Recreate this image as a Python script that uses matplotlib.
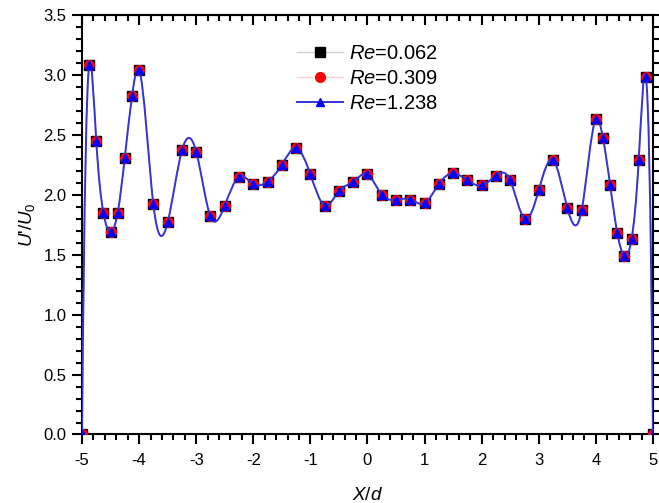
import numpy as np
import matplotlib
matplotlib.use("Agg")
import matplotlib.pyplot as plt
from matplotlib.path import Path
from matplotlib.patches import PathPatch
from matplotlib.lines import Line2D
from matplotlib.ticker import MultipleLocator, FormatStrFormatter

plt.rcParams['font.family'] = ['Liberation Sans', 'DejaVu Sans']
plt.rcParams['mathtext.fontset'] = 'custom'
plt.rcParams['mathtext.it'] = 'Liberation Sans:italic'
plt.rcParams['mathtext.rm'] = 'Liberation Sans'
plt.rcParams['axes.unicode_minus'] = False

# ---- data ----
x_d = [-5.0, -4.875, -4.75, -4.625, -4.5, -4.375, -4.25, -4.125, -4.0,
       -3.75, -3.5, -3.25, -3.0, -2.75, -2.5, -2.25, -2.0, -1.75, -1.5,
       -1.25, -1.0, -0.75, -0.5, -0.25, 0.0, 0.25, 0.5, 0.75, 1.0, 1.25,
       1.5, 1.75, 2.0, 2.25, 2.5, 2.75, 3.0, 3.25, 3.5, 3.75,
       4.0, 4.125, 4.25, 4.375, 4.5, 4.625, 4.75, 4.875, 5.0]
re_0062 = [0.0, 3.08, 2.45, 1.85, 1.69, 1.85, 2.31, 2.82, 3.04,
           1.92, 1.77, 2.37, 2.36, 1.82, 1.91, 2.15, 2.09, 2.11, 2.25,
           2.39, 2.17, 1.91, 2.03, 2.11, 2.17, 2.00, 1.96, 1.96, 1.93, 2.09,
           2.18, 2.12, 2.08, 2.16, 2.12, 1.80, 2.04, 2.29, 1.89, 1.87,
           2.63, 2.47, 2.08, 1.68, 1.49, 1.63, 2.29, 2.985, 0.0]
re_0309 = [0.0, 3.08, 2.45, 1.85, 1.69, 1.85, 2.31, 2.82, 3.04,
           1.92, 1.77, 2.37, 2.36, 1.82, 1.91, 2.15, 2.09, 2.11, 2.25,
           2.39, 2.17, 1.91, 2.03, 2.11, 2.17, 2.00, 1.96, 1.96, 1.93, 2.09,
           2.18, 2.12, 2.08, 2.16, 2.12, 1.80, 2.04, 2.29, 1.89, 1.87,
           2.63, 2.47, 2.08, 1.68, 1.49, 1.63, 2.29, 2.985, 0.0]
re_1238 = [0.0, 3.08, 2.45, 1.85, 1.69, 1.85, 2.31, 2.82, 3.04,
           1.92, 1.77, 2.37, 2.36, 1.82, 1.91, 2.15, 2.09, 2.11, 2.25,
           2.39, 2.17, 1.91, 2.03, 2.11, 2.17, 2.00, 1.96, 1.96, 1.93, 2.09,
           2.18, 2.12, 2.08, 2.16, 2.12, 1.80, 2.04, 2.29, 1.89, 1.87,
           2.63, 2.47, 2.08, 1.68, 1.49, 1.63, 2.29, 2.985, 0.0]
labels = [r"$Re$=0.062", r"$Re$=0.309", r"$Re$=1.238"]


def spline_path(xs, ys):
    """Not-a-knot cubic spline connection drawn as Bezier curves."""
    xs = np.asarray(xs, float)
    ys = np.asarray(ys, float)
    n = len(xs)
    h = np.diff(xs)
    A = np.zeros((n, n))
    b = np.zeros(n)
    A[0, 0], A[0, 1], A[0, 2] = h[1], -(h[0] + h[1]), h[0]
    A[-1, -3], A[-1, -2], A[-1, -1] = h[-1], -(h[-2] + h[-1]), h[-2]
    for i in range(1, n - 1):
        A[i, i - 1] = h[i - 1]
        A[i, i] = 2 * (h[i - 1] + h[i])
        A[i, i + 1] = h[i]
        b[i] = 6 * ((ys[i + 1] - ys[i]) / h[i] - (ys[i] - ys[i - 1]) / h[i - 1])
    M = np.linalg.solve(A, b)
    verts = [(xs[0], ys[0])]
    codes = [Path.MOVETO]
    for i in range(n - 1):
        s = (ys[i + 1] - ys[i]) / h[i]
        m0 = s - h[i] * (2 * M[i] + M[i + 1]) / 6
        m1 = s + h[i] * (M[i] + 2 * M[i + 1]) / 6
        verts += [(xs[i] + h[i] / 3, ys[i] + m0 * h[i] / 3),
                  (xs[i + 1] - h[i] / 3, ys[i + 1] - m1 * h[i] / 3),
                  (xs[i + 1], ys[i + 1])]
        codes += [Path.CURVE4] * 3
    return Path(verts, codes)


fig = plt.figure(figsize=(6.59, 5.03), dpi=100)
ax = fig.add_axes([0.1244, 0.1362, 0.9909 - 0.1244, 0.9702 - 0.1362])

# connecting lines
ax.add_patch(PathPatch(spline_path(x_d, re_0062), fill=False, edgecolor='#d0d0d0', lw=1.0, zorder=2))
ax.add_patch(PathPatch(spline_path(x_d, re_0309), fill=False, edgecolor='#f6d0d0', lw=1.0, zorder=2))
ax.add_patch(PathPatch(spline_path(x_d, re_1238), fill=False, edgecolor='#3434d8', lw=1.4, zorder=4))

ax.plot(x_d, re_0062, ls='none', marker='s', ms=7.2, color='black', zorder=3)
ax.plot(x_d, re_0309, ls='none', marker='o', ms=7, color='red', zorder=3.5)
ax.plot(x_d, re_1238, ls='none', marker='^', ms=5.5, color='#0000ff', zorder=5)

ax.set_xlim(-5, 5)
ax.set_ylim(0, 3.5)
ax.xaxis.set_major_locator(MultipleLocator(1))
ax.xaxis.set_minor_locator(MultipleLocator(0.2))
ax.yaxis.set_major_locator(MultipleLocator(0.5))
ax.yaxis.set_minor_locator(MultipleLocator(0.1))
ax.yaxis.set_major_formatter(FormatStrFormatter('%.1f'))

for s in ax.spines.values():
    s.set_linewidth(1.5)

ax.tick_params(which='both', direction='out', width=1.5, labelsize=12,
               top=False, right=True)
ax.tick_params(which='major', length=7)
ax.tick_params(which='minor', length=4)
ax.tick_params(axis='x', which='major', pad=6)
ax.tick_params(axis='y', which='major', pad=4)

# top spine: inward ticks
sec = ax.secondary_xaxis('top')
sec.xaxis.set_major_locator(MultipleLocator(1))
sec.xaxis.set_minor_locator(MultipleLocator(0.2))
sec.tick_params(which='both', direction='in', width=1.5, labeltop=False)
sec.tick_params(which='major', length=7)
sec.tick_params(which='minor', length=4)
sec.spines['top'].set_linewidth(1.5)

ax.set_xlabel(r"$X/d$", fontsize=13.5, labelpad=14)
ax.set_ylabel(r"$U$'/$U_0$", fontsize=13.5, labelpad=5)

handles = [
    Line2D([], [], color='#d0d0d0', lw=1.0, marker='s', ms=7.2, mfc='black', mec='black'),
    Line2D([], [], color='#f6d0d0', lw=1.0, marker='o', ms=7, mfc='red', mec='red'),
    Line2D([], [], color='#3434d8', lw=1.4, marker='^', ms=5.5, mfc='#0000ff', mec='#0000ff'),
]
leg = fig.legend(handles, labels, loc='upper left', bbox_to_anchor=(297 / 659, 1 - 44 / 503),
                 frameon=False, fontsize=14.5, handlelength=2.3, handletextpad=0.3,
                 labelspacing=0.3, borderpad=0, borderaxespad=0)

fig.savefig('out.png', dpi=100)
